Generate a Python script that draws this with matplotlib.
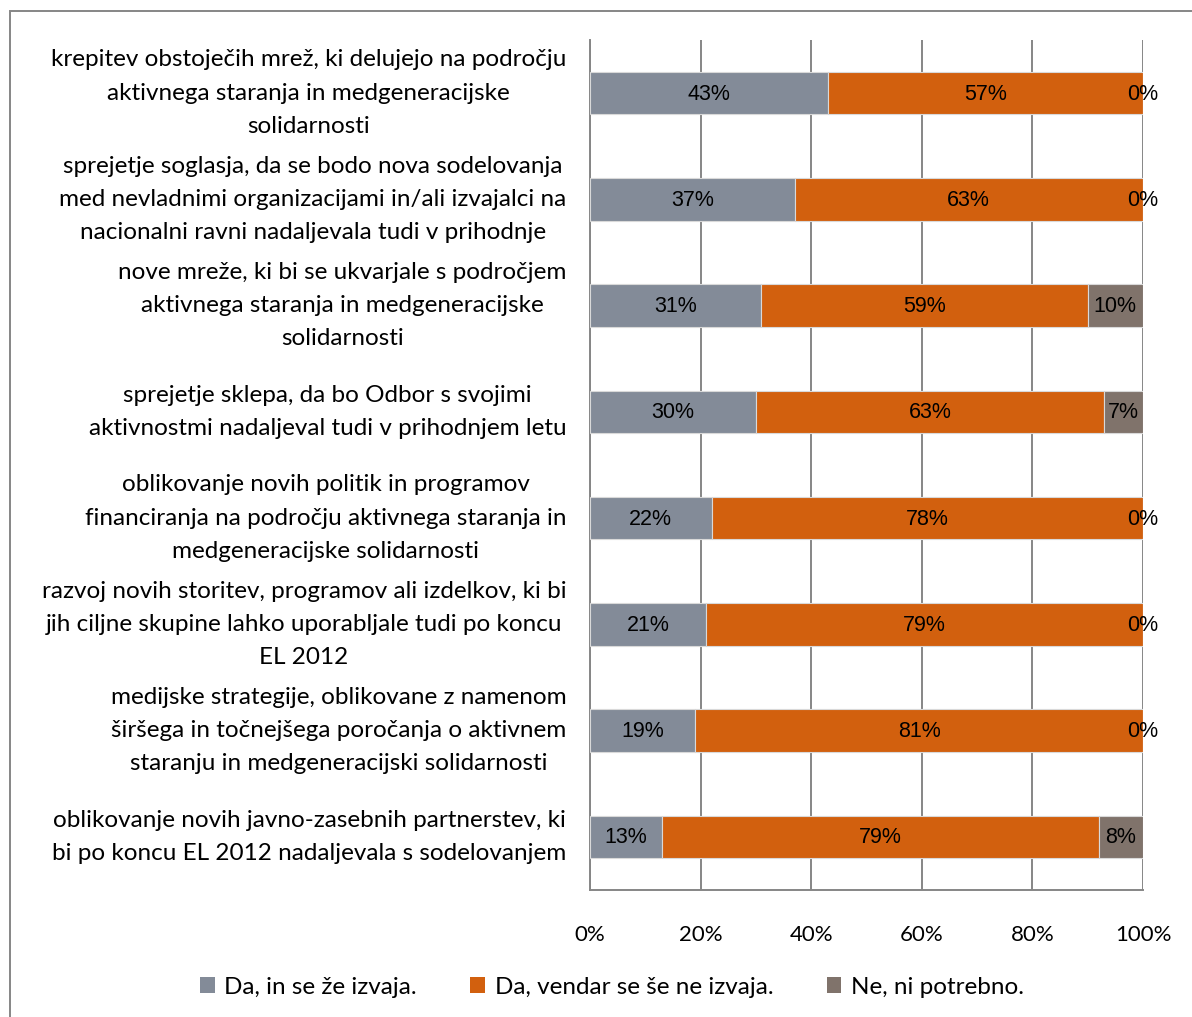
import matplotlib
matplotlib.use("Agg")
import matplotlib.pyplot as plt
from matplotlib.patches import Rectangle
import numpy as np

categories = [
    "krepitev obstoječih mrež, ki delujejo na področju\naktivnega staranja in medgeneracijske\nsolidarnosti",
    "sprejetje soglasja, da se bodo nova sodelovanja\nmed nevladnimi organizacijami in/ali izvajalci na\nnacionalni ravni nadaljevala tudi v prihodnje",
    "nove mreže, ki bi se ukvarjale s področjem\naktivnega staranja in medgeneracijske\nsolidarnosti",
    "sprejetje sklepa, da bo Odbor s svojimi\naktivnostmi nadaljeval tudi v prihodnjem letu",
    "oblikovanje novih politik in programov\nfinanciranja na področju aktivnega staranja in\nmedgeneracijske solidarnosti",
    "razvoj novih storitev, programov ali izdelkov, ki bi\njih ciljne skupine lahko uporabljale tudi po koncu\nEL 2012",
    "medijske strategije, oblikovane z namenom\nširšega in točnejšega poročanja o aktivnem\nstaranju in medgeneracijski solidarnosti",
    "oblikovanje novih javno-zasebnih partnerstev, ki\nbi po koncu EL 2012 nadaljevala s sodelovanjem",
]
da_izvaja = [43, 37, 31, 30, 22, 21, 19, 13]
da_ne_izvaja = [57, 63, 59, 63, 78, 79, 81, 79]
ne_potrebno = [0, 0, 10, 7, 0, 0, 0, 8]
series_names = ["Da, in se že izvaja.", "Da, vendar se še ne izvaja.", "Ne, ni potrebno."]
colors = ["#838B98", "#D2600E", "#80736B"]
xticks = [0, 20, 40, 60, 80, 100]

W, H = 1192, 1017
fig = plt.figure(figsize=(W / 100, H / 100), dpi=100)
ax = fig.add_axes([590 / W, 1 - 890 / H, (1143 - 590) / W, (890 - 40) / H])

y = np.arange(len(categories))
left = np.zeros(len(categories))
for vals, name, col in zip([da_izvaja, da_ne_izvaja, ne_potrebno], series_names, colors):
    vals = np.array(vals, dtype=float)
    ax.barh(y, vals, left=left, height=0.4, color=col, edgecolor="#D9D9D9",
            linewidth=0.8, label=name, zorder=3)
    for yi, l, v in zip(y, left, vals):
        ax.text(l + v / 2, yi + 0.01, f"{int(v)}%", ha="center", va="center",
                fontsize=15.5, family="Liberation Sans", color="#000000", zorder=4)
    left += vals

ax.set_xlim(0, 100)
ax.set_ylim(len(categories) - 0.5, -0.5)
ax.set_xticks(xticks)
ax.set_xticklabels([f"{t}%" for t in xticks], family="Lato", fontsize=16)
ax.set_yticks(y)
ax.set_yticklabels(categories, family="Lato", fontsize=17.5, linespacing=1.72,
                   multialignment="center", va="center")
ax.tick_params(axis="both", length=0)
ax.tick_params(axis="y", pad=17)
ax.tick_params(axis="x", pad=25)
ax.grid(axis="x", color="#868686", linewidth=1.4, zorder=1)
for s in ["top", "right"]:
    ax.spines[s].set_visible(False)
for s in ["left", "bottom"]:
    ax.spines[s].set_color("#868686")
    ax.spines[s].set_linewidth(1.4)

fig.patches.append(Rectangle((10 / W, -0.01), (W - 10) / W + 0.02, 1 - 11 / H + 0.01,
                             transform=fig.transFigure, fill=False,
                             edgecolor="#868686", linewidth=1.4))

handles, labels = ax.get_legend_handles_labels()
leg = fig.legend(handles, labels, loc="center", bbox_to_anchor=(612 / W, 1 - 987 / H),
                 ncol=3, frameon=False, prop={"family": "Lato", "size": 17.5},
                 handlelength=0.6, handleheight=0.6, handletextpad=0.4, columnspacing=2.2)
for h in leg.legend_handles:
    h.set_edgecolor("none")

fig.savefig("out.png", dpi=100)
